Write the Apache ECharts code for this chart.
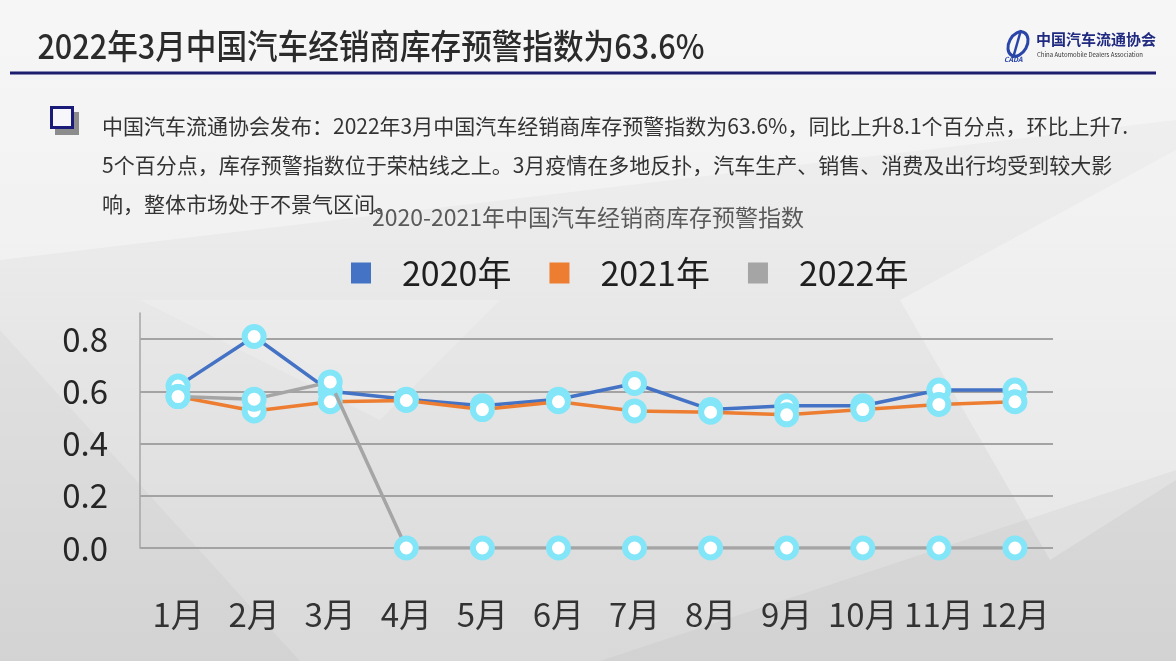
<!DOCTYPE html>
<html><head><meta charset="utf-8">
<script src="https://cdn.jsdelivr.net/npm/echarts@6/dist/echarts.min.js"></script>
<style>html,body{margin:0;padding:0;width:1176px;height:661px;overflow:hidden;background:#e6e6e6;}#c{width:1176px;height:661px;}</style>
</head><body><div id="c"></div>
<script>
const months = ['1月','2月','3月','4月','5月','6月','7月','8月','9月','10月','11月','12月'];
const seriesNames = ['2020年','2021年','2022年'];
const s2020 = [0.62, 0.81, 0.60, 0.57, 0.545, 0.57, 0.63, 0.53, 0.545, 0.545, 0.605, 0.605];
const s2021 = [0.58, 0.525, 0.56, 0.565, 0.53, 0.56, 0.525, 0.52, 0.51, 0.53, 0.55, 0.56];
const s2022 = [0.58, 0.57, 0.636, 0, 0, 0, 0, 0, 0, 0, 0, 0];
const lineColors = ['#4472c4', '#ed7d31', '#a5a5a5'];
const pageTitle = '2022年3月中国汽车经销商库存预警指数为63.6%';
const chartTitle = '2020-2021年中国汽车经销商库存预警指数';
const paraLines = [
  '中国汽车流通协会发布：2022年3月中国汽车经销商库存预警指数为63.6%，同比上升8.1个百分点，环比上升7.',
  '5个百分点，库存预警指数位于荣枯线之上。3月疫情在多地反扑，汽车生产、销售、消费及出行均受到较大影',
  '响，整体市场处于不景气区间。'
];
const logoCn = '中国汽车流通协会';
const logoEn = 'China Automobile Dealers Association';

const FONT = '"Noto Sans CJK SC", "Noto Sans", sans-serif';
const chart = echarts.init(document.getElementById('c'), null, {renderer: 'canvas'});

function mkSeries(i, data) {
  return {
    name: seriesNames[i], type: 'line', data: data,
    symbol: 'circle', symbolSize: 19,
    lineStyle: {color: lineColors[i], width: 3.5},
    itemStyle: {color: '#ffffff', borderColor: '#82e5f8', borderWidth: 6},
    emphasis: {disabled: true},
    z: 3 + i
  };
}

const graphics = [
  // background facets
  {type: 'polygon', silent: true, z: -10, shape: {points: [[0,0],[1176,0],[1176,120],[0,260]]}, style: {fill: 'rgba(255,255,255,0.35)'}},
  {type: 'polygon', silent: true, z: -10, shape: {points: [[0,330],[300,661],[0,661]]}, style: {fill: 'rgba(0,0,0,0.025)'}},
  {type: 'polygon', silent: true, z: -10, shape: {points: [[900,300],[1176,150],[1176,480],[1050,560]]}, style: {fill: 'rgba(255,255,255,0.30)'}},
  {type: 'polygon', silent: true, z: -10, shape: {points: [[600,661],[1176,470],[1176,661]]}, style: {fill: 'rgba(0,0,0,0.03)'}},
  {type: 'polygon', silent: true, z: -10, shape: {points: [[140,300],[500,300],[380,420]]}, style: {fill: 'rgba(255,255,255,0.18)'}},
  // header title
  {type: 'text', x: 34, y: 46, scaleX: 0.9, originX: 34, originY: 46,
    style: {text: pageTitle, font: '500 34px ' + FONT, fill: '#2b2b2b', verticalAlign: 'middle'}},
  // navy rule
  {type: 'line', silent: true, shape: {x1: 10, y1: 73, x2: 1156, y2: 73}, style: {stroke: '#1d1d6e', lineWidth: 3}},
  // logo
  {type: 'ellipse', shape: {cx: 1018, cy: 44, rx: 9, ry: 13}, rotation: -0.5, originX: 1018, originY: 44, style: {fill: 'none', stroke: '#2a45a8', lineWidth: 3}},
  {type: 'line', shape: {x1: 1021, y1: 30, x2: 1013, y2: 58}, style: {stroke: '#2a45a8', lineWidth: 2.5}},
  {type: 'text', x: 1004, y: 56, style: {text: 'CADA', font: 'italic bold 7px ' + FONT, fill: '#2a45a8'}},
  {type: 'text', x: 1036, y: 32, style: {text: logoCn, font: 'bold 15px ' + FONT, fill: '#1f2a80'}},
  {type: 'text', x: 1037, y: 52, style: {text: logoEn, font: '6px ' + FONT, fill: '#333'}},
  // bullet
  {type: 'rect', shape: {x: 55, y: 112, width: 24, height: 23}, style: {fill: '#8c8c8c'}},
  {type: 'rect', shape: {x: 51.5, y: 107.5, width: 21, height: 20}, style: {fill: '#f6f6fb', stroke: '#1a1a78', lineWidth: 3}},
  // paragraph
  {type: 'text', x: 102, y: 126, style: {text: paraLines[0], font: '21px ' + FONT, fill: '#333', verticalAlign: 'middle'}},
  {type: 'text', x: 102, y: 165, style: {text: paraLines[1], font: '21px ' + FONT, fill: '#333', verticalAlign: 'middle'}},
  {type: 'text', x: 102, y: 204, style: {text: paraLines[2], font: '21px ' + FONT, fill: '#333', verticalAlign: 'middle'}}
];

const option = {
  backgroundColor: {
    type: 'linear', x: 0, y: 0, x2: 0, y2: 1,
    colorStops: [{offset: 0, color: '#f2f2f2'}, {offset: 0.35, color: '#ebebeb'}, {offset: 1, color: '#d9d9d9'}]
  },
  animation: false,
  textStyle: {fontFamily: FONT},
  title: {
    text: chartTitle, left: 'center', top: 201,
    textStyle: {fontSize: 23, fontWeight: 'normal', color: '#595959', fontFamily: FONT}
  },
  legend: {
    top: 251, left: 346,
    icon: 'rect', itemWidth: 20, itemHeight: 21, itemGap: 38,
    textStyle: {fontSize: 34, color: '#1f1f1f', fontFamily: FONT, padding: [0, 0, 0, 26]},
    data: seriesNames.map((n, i) => ({name: n, icon: 'rect', itemStyle: {color: lineColors[i], borderWidth: 0}})),
    selectedMode: false
  },
  grid: {left: 140, right: 123, top: 313, bottom: 113, containLabel: false},
  xAxis: {
    type: 'category', data: months, boundaryGap: true,
    axisLine: {show: false}, axisTick: {show: false},
    axisLabel: {fontSize: 33, color: '#333', margin: 50, interval: 0, fontFamily: FONT}
  },
  yAxis: {
    type: 'value', min: 0, max: 0.9, interval: 0.2,
    axisLine: {show: true, lineStyle: {color: '#a6a6a6', width: 1.5}},
    axisTick: {show: false},
    axisLabel: {fontSize: 33, color: '#262626', margin: 32, showMaxLabel: false, fontFamily: FONT,
      formatter: v => v.toFixed(1)},
    splitLine: {show: true, showMaxLine: false, lineStyle: {color: ['#a3a3a3','#a3a3a3','#a3a3a3','#a3a3a3','#a3a3a3','rgba(0,0,0,0)'], width: 2}}
  },
  series: [mkSeries(0, s2020), mkSeries(1, s2021), mkSeries(2, s2022)],
  graphic: graphics
};
chart.setOption(option);
</script>
</body></html>
